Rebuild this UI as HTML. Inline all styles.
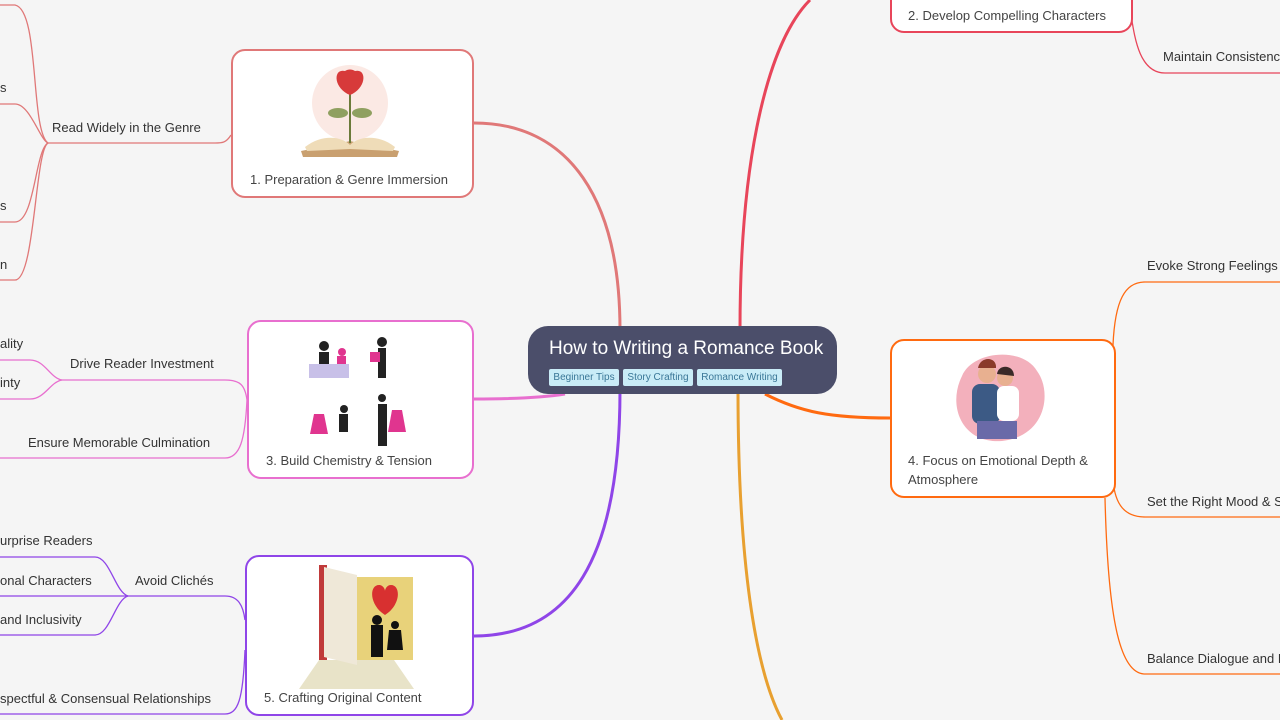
<!DOCTYPE html>
<html><head><meta charset="utf-8"><style>
body{margin:0;width:1280px;height:720px;background:#f5f5f5;overflow:hidden;position:relative;font-family:"Liberation Sans",sans-serif;color:#333}
.t{position:absolute;font-size:13px;white-space:nowrap;line-height:16px}
.n{position:absolute;background:#fff;border:2px solid;border-radius:14px;box-sizing:border-box}
.n .l{position:absolute;font-size:13px;line-height:19px;color:#444;white-space:nowrap}
.tag{position:absolute;top:369px;height:17px;background:#c9ecf7;color:#3a7797;font-size:10px;line-height:17px;padding:0 2px;border-radius:2px;box-sizing:border-box;white-space:nowrap;overflow:hidden;text-align:center}
svg{position:absolute;left:0;top:0}
</style></head><body>
<svg width="1280" height="720" fill="none">
<path d="M620,330 C620,200 570,123 474,123" stroke="#e07878" stroke-width="3"/>
<path d="M565,394 C540,398 500,399 474,399" stroke="#e86fcf" stroke-width="3"/>
<path d="M620,390 C620,560 570,636 474,636" stroke="#8f45e8" stroke-width="3"/>
<path d="M740,330 C740,150 770,40 810,0" stroke="#e8455a" stroke-width="3"/>
<path d="M765,394 C800,412 830,418 890,418" stroke="#ff6a10" stroke-width="3"/>
<path d="M738,390 C738,560 755,670 782,720" stroke="#e8a030" stroke-width="3"/>
<g stroke="#e07878" stroke-width="1.3">
<path d="M231,135 C226,143 222,143 215,143 L48,143"/>
<path d="M48,143 C30,130 40,10 15,5 L0,5"/>
<path d="M48,143 C40,140 30,104 15,104 L0,104"/>
<path d="M48,143 C35,150 35,222 15,222 L0,222"/>
<path d="M48,143 C35,150 35,280 15,280 L0,280"/>
</g>
<path d="M1131,15 C1135,40 1140,73 1165,73 L1280,73" stroke="#e8455a" stroke-width="1.3"/>
<g stroke="#e86fcf" stroke-width="1.3">
<path d="M247,400 C245,385 240,380 225,380 L62,380"/>
<path d="M62,380 C50,378 45,360 30,360 L0,360"/>
<path d="M62,380 C50,382 45,399 30,399 L0,399"/>
<path d="M247,400 C245,440 240,458 225,458 L0,458"/>
</g>
<g stroke="#ff6a10" stroke-width="1.3">
<path d="M1113,345 C1115,300 1125,282 1145,282 L1280,282"/>
<path d="M1113,480 C1115,505 1125,517 1145,517 L1280,517"/>
<path d="M1105,498 C1108,620 1120,674 1145,674 L1280,674"/>
</g>
<g stroke="#8f45e8" stroke-width="1.3">
<path d="M245,620 C243,605 238,596 225,596 L128,596"/>
<path d="M128,596 C115,592 110,557 95,557 L0,557"/>
<path d="M128,596 L0,596"/>
<path d="M128,596 C115,600 110,635 95,635 L0,635"/>
<path d="M245,650 C243,700 238,714 225,714 L0,714"/>
</g>
</svg>

<div style="position:absolute;left:528px;top:326px;width:309px;height:68px;background:#4b4e6a;border-radius:20px"></div>
<div class="t" style="left:549px;top:337px;font-size:19px;line-height:24px;color:#fff">How to Writing a Romance Book</div>
<div class="tag" style="left:549px;width:70px">Beginner Tips</div>
<div class="tag" style="left:623px;width:70px">Story Crafting</div>
<div class="tag" style="left:697px;width:85px">Romance Writing</div>

<div class="n" style="left:231px;top:49px;width:243px;height:149px;border-color:#e07878">
<svg style="left:60px;top:12px" width="115" height="98">
<circle cx="57" cy="40" r="38" fill="#fbe9e4"/>
<path d="M8,88 L57,78 L106,88 L104,94 L10,94Z" fill="#c9a070"/>
<path d="M12,84 C30,70 50,74 57,82 C64,74 84,70 102,84 L100,88 L57,86 L14,88Z" fill="#efdcb8"/>
<path d="M57,80 L57,30" stroke="#6b7a3a" stroke-width="2"/>
<ellipse cx="45" cy="50" rx="10" ry="5" fill="#8fa060"/><ellipse cx="69" cy="50" rx="10" ry="5" fill="#8fa060"/>
<path d="M57,32 C40,25 40,5 52,8 C55,6 59,6 62,8 C74,5 74,25 57,32Z" fill="#d73a3a"/>
</svg>
<div class="l" style="left:17px;top:119px">1. Preparation &amp; Genre Immersion</div>
</div>

<div class="n" style="left:890px;top:-20px;width:243px;height:53px;border-color:#e8455a">
<div class="l" style="left:16px;top:24px">2. Develop Compelling Characters</div>
</div>
<div class="t" style="left:1163px;top:49px">Maintain Consistency</div>

<div class="n" style="left:247px;top:320px;width:227px;height:159px;border-color:#e86fcf">
<svg style="left:55px;top:12px" width="110" height="115">
<g fill="#222"><circle cx="20" cy="12" r="5"/><rect x="15" y="18" width="10" height="22"/><circle cx="78" cy="8" r="5"/><rect x="74" y="14" width="8" height="30"/>
<circle cx="40" cy="75" r="4"/><rect x="35" y="80" width="9" height="18"/><rect x="74" y="70" width="9" height="42"/><circle cx="78" cy="64" r="4"/></g>
<g fill="#e0358f"><circle cx="38" cy="18" r="4"/><rect x="33" y="22" width="9" height="14"/><rect x="66" y="18" width="10" height="10"/><path d="M10,80 L20,80 L24,100 L6,100Z"/><path d="M88,76 L98,76 L102,98 L84,98Z"/></g>
<rect x="5" y="30" width="40" height="14" fill="#c8c0e8"/>
</svg>
<div class="l" style="left:17px;top:129px">3. Build Chemistry &amp; Tension</div>
</div>
<div class="t" style="left:0px;top:336px">ality</div>
<div class="t" style="left:70px;top:356px">Drive Reader Investment</div>
<div class="t" style="left:0px;top:375px">inty</div>
<div class="t" style="left:28px;top:435px">Ensure Memorable Culmination</div>

<div class="n" style="left:890px;top:339px;width:226px;height:159px;border-color:#ff6a10">
<svg style="left:50px;top:5px" width="115" height="100">
<path d="M20,30 C30,5 80,0 95,25 C110,45 105,90 60,95 C20,98 5,60 20,30Z" fill="#f3b0bc"/>
<circle cx="45" cy="28" r="9" fill="#e8b090"/><path d="M36,22 C38,10 55,10 54,22Z" fill="#8a3a2a"/>
<rect x="30" y="38" width="28" height="40" rx="8" fill="#3c5a85"/>
<circle cx="63" cy="32" r="8" fill="#e8b090"/><path d="M55,28 C56,18 72,18 72,30Z" fill="#3a2a28"/>
<rect x="55" y="40" width="22" height="35" rx="7" fill="#fff"/>
<rect x="35" y="75" width="40" height="18" fill="#6a6aa8"/>
</svg>
<div class="l" style="left:16px;top:110px">4. Focus on Emotional Depth &amp;<br>Atmosphere</div>
</div>
<div class="t" style="left:1147px;top:258px">Evoke Strong Feelings</div>
<div class="t" style="left:1147px;top:494px">Set the Right Mood &amp; Setting</div>
<div class="t" style="left:1147px;top:651px">Balance Dialogue and Description</div>

<div class="n" style="left:245px;top:555px;width:229px;height:161px;border-color:#8f45e8">
<svg style="left:52px;top:8px" width="115" height="124">
<path d="M0,124 L20,95 L95,95 L115,124Z" fill="#e8e3c8"/>
<rect x="20" y="0" width="8" height="95" fill="#c03a3a"/>
<path d="M25,2 L58,10 L58,100 L25,92Z" fill="#efe8d8"/>
<rect x="58" y="12" width="56" height="83" fill="#e8d27a"/>
<path d="M86,50 C70,40 70,20 80,20 C84,20 86,24 86,26 C86,24 88,20 92,20 C102,20 102,40 86,50Z" fill="#d83030"/>
<g fill="#111"><circle cx="78" cy="55" r="5"/><rect x="72" y="60" width="12" height="32"/><circle cx="96" cy="60" r="4"/><path d="M90,65 L102,65 L104,85 L88,85Z"/></g>
</svg>
<div class="l" style="left:17px;top:131px">5. Crafting Original Content</div>
</div>
<div class="t" style="left:0px;top:533px">urprise Readers</div>
<div class="t" style="left:0px;top:573px">onal Characters</div>
<div class="t" style="left:135px;top:573px">Avoid Clichés</div>
<div class="t" style="left:0px;top:612px">and Inclusivity</div>
<div class="t" style="left:0px;top:691px">spectful &amp; Consensual Relationships</div>

<div class="t" style="left:0px;top:80px">s</div>
<div class="t" style="left:52px;top:120px">Read Widely in the Genre</div>
<div class="t" style="left:0px;top:198px">s</div>
<div class="t" style="left:0px;top:257px">n</div>
</body></html>
